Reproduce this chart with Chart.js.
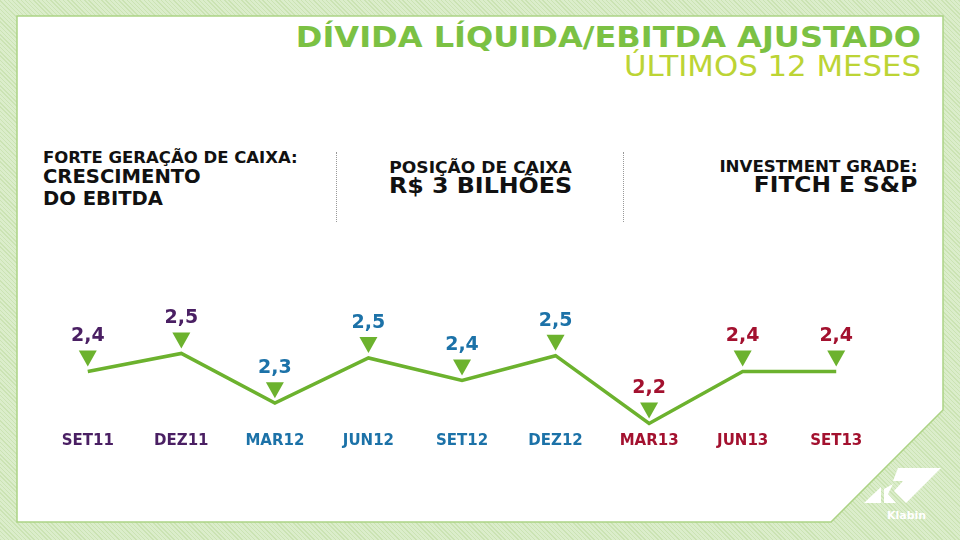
<!DOCTYPE html>
<html>
<head>
<meta charset="utf-8">
<script src="https://cdn.jsdelivr.net/npm/chart.js@4.4.0/dist/chart.umd.min.js"></script>
<style>
  html, body { margin: 0; padding: 0; }
  body {
    width: 960px; height: 540px; overflow: hidden; position: relative;
    font-family: "DejaVu Sans", Verdana, sans-serif;
    background-color: #dbedcb;
    background-image: repeating-linear-gradient(45deg, #cbe3b3 0px, #cbe3b3 1px, transparent 1px, transparent 3px);
  }
  #panel { position: absolute; left: 0; top: 0; }
  .txt { position: absolute; white-space: nowrap; font-weight: bold; color: #111; }
  .sep { position: absolute; top: 152px; height: 70px; width: 0; border-left: 1px dotted #999; }
  #chart { position: absolute; left: 0; top: 0; }
</style>
</head>
<body>

<svg id="panel" width="960" height="540">
  <polygon points="17,16 943,16 943,410 831,522 17,522" fill="#ffffff" stroke="#acd385" stroke-width="1.5"/>
  <!-- logo -->
  <polygon points="864,503 881,487 881,503" fill="#ffffff"/>
  <polygon points="884,503 884,489 893,484 888,494 896,503" fill="#ffffff"/>
  <polygon points="898,468 941,468 906,503 894,491 903,481 893,481" fill="#ffffff"/>
</svg>

<div class="txt" style="right:39px; top:21px; font-size:28px; color:#7bc143; transform:scaleX(1.145); transform-origin:right;">DÍVIDA LÍQUIDA/EBITDA AJUSTADO</div>
<div class="txt" style="right:39px; top:50px; font-size:28px; font-weight:normal; color:#bcd435; transform:scaleX(1.1); transform-origin:right;">ÚLTIMOS 12 MESES</div>

<div class="txt" style="left:43px; top:149px; font-size:15px; transform:scaleX(1.1); transform-origin:left;">FORTE GERAÇÃO DE CAIXA:</div>
<div class="txt" style="left:43px; top:165px; font-size:19px; line-height:22px; transform:scaleX(1.03); transform-origin:left;">CRESCIMENTO<br>DO EBITDA</div>

<div class="sep" style="left:336px;"></div>
<div class="sep" style="left:623px;"></div>

<div class="txt" style="left:337px; width:287px; text-align:center; top:159px; font-size:15px; transform:scaleX(1.14);">POSIÇÃO DE CAIXA</div>
<div class="txt" style="left:337px; width:287px; text-align:center; top:174px; font-size:21px; transform:scaleX(1.13);">R$ 3 BILHÕES</div>

<div class="txt" style="right:43px; top:158px; font-size:15px; transform:scaleX(1.11); transform-origin:right;">INVESTMENT GRADE:</div>
<div class="txt" style="right:43px; top:173px; font-size:21px; transform:scaleX(1.11); transform-origin:right;">FITCH E S&amp;P</div>

<div class="txt" style="left:887px; top:509px; font-size:11px; color:#ffffff;">Klabin</div>

<canvas id="chart" width="960" height="540"></canvas>

<script>
const categories = ["SET11", "DEZ11", "MAR12", "JUN12", "SET12", "DEZ12", "MAR13", "JUN13", "SET13"];
const values = [2.43, 2.51, 2.29, 2.49, 2.39, 2.50, 2.20, 2.43, 2.43];
const valueLabels = ["2,4", "2,5", "2,3", "2,5", "2,4", "2,5", "2,2", "2,4", "2,4"];

const PURPLE = "#4a1f63";
const BLUE = "#1c72a8";
const RED = "#a3112f";
const labelColors = [PURPLE, PURPLE, BLUE, BLUE, BLUE, BLUE, RED, RED, RED];

const GREEN = "#6cb22e";

/* triangles + value labels above each point */
const markers = {
  id: "markers",
  afterDatasetsDraw(chart){
    const ctx = chart.ctx;
    const meta = chart.getDatasetMeta(0);
    ctx.save();
    meta.data.forEach((pt, i) => {
      const x = pt.x, y = pt.y;
      ctx.fillStyle = GREEN;
      ctx.beginPath();
      ctx.moveTo(x - 9, y - 21);
      ctx.lineTo(x + 9, y - 21);
      ctx.lineTo(x, y - 5);
      ctx.closePath();
      ctx.fill();

      ctx.fillStyle = labelColors[i];
      ctx.font = "bold 19px 'DejaVu Sans'";
      ctx.textAlign = "center";
      ctx.textBaseline = "middle";
      ctx.fillText(valueLabels[i], x, y - 35);
    });
    ctx.restore();
  }
};

new Chart(document.getElementById("chart"), {
  type: "line",
  data: {
    labels: categories,
    datasets: [{
      data: values,
      borderColor: GREEN,
      borderWidth: 3.5,
      pointRadius: 0,
      tension: 0,
      fill: false
    }]
  },
  options: {
    responsive: false,
    animation: false,
    layout: {
      padding: { left: 41, right: 77, top: 306, bottom: 86 }
    },
    plugins: {
      legend: { display: false },
      tooltip: { enabled: false }
    },
    scales: {
      x: {
        offset: true,
        grid: { display: false, drawTicks: false },
        border: { display: false },
        ticks: {
          padding: 4,
          color: (c) => labelColors[c.index],
          font: { family: "DejaVu Sans", weight: "bold", size: 15 }
        }
      },
      y: {
        display: false,
        min: 2.18,
        max: 2.72
      }
    }
  },
  plugins: [markers]
});
</script>
</body>
</html>
